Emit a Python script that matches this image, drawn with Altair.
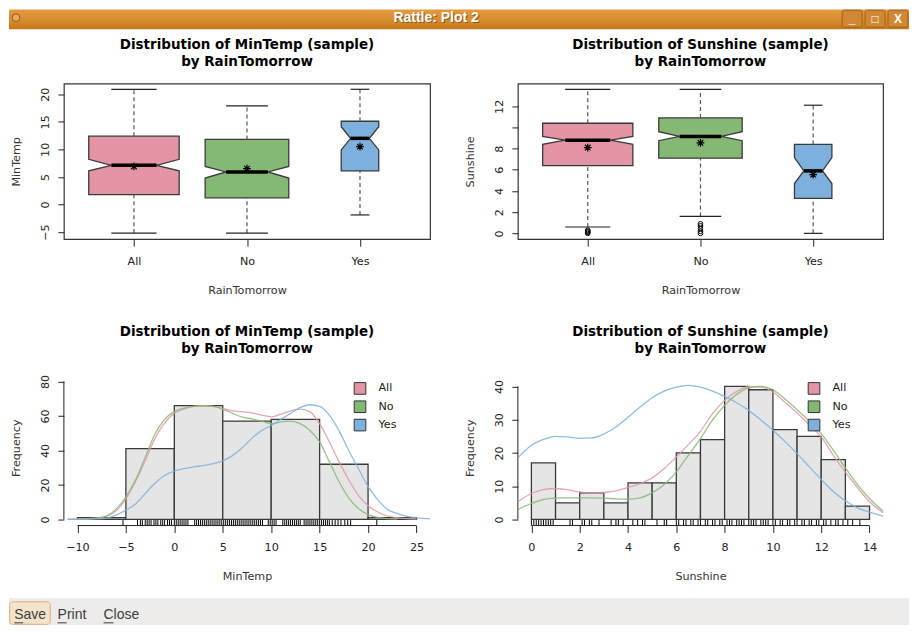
import json
import altair as alt
import pandas as pd

FONT = "DejaVu Sans"
UI_FONT = "Liberation Sans"
INK = "#222222"

# ---------------- data ----------------
groups = ["All", "No", "Yes"]
group_pos = [1, 2, 3]
box_half_width = [0.40, 0.37, 0.166]
group_colors = ["#E495A5", "#86B875", "#7DB0DD"]

# MinTemp boxplot statistics by group
mt_whisk_lo = [-5.2, -5.2, -1.9]
mt_q1 = [1.8, 1.2, 6.1]
mt_notch_lo = [6.1, 4.8, 9.9]
mt_median = [7.1, 5.9, 12.0]
mt_notch_hi = [8.2, 6.9, 14.1]
mt_q3 = [12.4, 11.8, 15.1]
mt_whisk_hi = [20.9, 17.9, 20.9]
mt_mean = [6.9, 6.5, 10.5]

# Sunshine boxplot statistics by group
ss_whisk_lo = [0.6, 1.6, 0.0]
ss_q1 = [6.4, 7.1, 3.3]
ss_notch_lo = [8.4, 8.75, 4.7]
ss_median = [8.8, 9.15, 5.9]
ss_notch_hi = [9.15, 9.6, 7.15]
ss_q3 = [10.4, 10.9, 8.4]
ss_whisk_hi = [13.6, 13.6, 12.1]
ss_mean = [8.1, 8.55, 5.55]
ss_outlier_group = ["All", "All", "All", "All", "No", "No", "No", "No", "No"]
ss_outlier_value = [0.0, 0.1, 0.2, 0.3, 0.0, 0.2, 0.45, 0.7, 0.9]

# Histograms
mt_bin_edges = [-10, -5, 0, 5, 10, 15, 20, 25]
mt_counts = [1, 41, 66, 57, 58, 32, 1]
ss_bin_edges = [0, 1, 2, 3, 4, 5, 6, 7, 8, 9, 10, 11, 12, 13, 14]
ss_counts = [17, 5, 8, 5, 11, 11, 20, 24, 40, 39, 27, 25, 18, 4]

# Rug values
mt_rug = [-5.3, -3.8, -3.5, -3.3, -3.0, -2.8, -2.6, -2.4, -2.1, -1.9, -1.7, -1.4, -1.2, -1.0,
          -0.7, -0.5, -0.3, 0.0, 0.2, 0.4, 0.6, 0.8, 1.0, 1.2, 1.4, 2.1, 2.3, 2.5, 2.7, 2.9,
          3.1, 3.3, 3.5, 3.7, 3.9, 4.1, 4.3, 4.5, 4.7, 4.9, 5.1, 5.3, 5.5, 5.7, 5.9, 6.1,
          6.3, 6.5, 6.7, 6.9, 7.1, 7.3, 7.5, 7.7, 7.9, 8.1, 8.3, 8.5, 8.7, 8.9, 9.1, 9.7,
          9.9, 10.1, 10.3, 10.5, 11.2, 11.4, 11.6, 11.8, 12.0, 12.2, 12.4, 12.6, 12.8, 13.0,
          13.4, 13.6, 13.8, 14.0, 14.2, 14.4, 14.6, 14.8, 15.0, 15.2, 15.4, 15.6, 15.8, 16.0,
          16.3, 16.6, 16.9, 17.2, 17.6, 17.9, 18.2, 20.9]
ss_rug = [0.0, 0.1, 0.2, 0.3, 0.4, 0.5, 0.6, 0.7, 0.8, 0.9, 1.6, 1.7, 2.1, 2.2, 2.4, 2.5, 2.8,
          3.3, 3.5, 3.6, 3.8, 4.2, 4.4, 4.6, 4.7, 5.2, 5.5, 5.6, 6.0, 6.1, 6.3, 6.4, 6.6, 6.7,
          6.9, 7.0, 7.2, 7.3, 7.5, 7.6, 7.8, 7.9, 8.1, 8.2, 8.3, 8.5, 8.6, 8.7, 8.8, 9.0, 9.1,
          9.2, 9.3, 9.5, 9.6, 9.7, 9.8, 10.0, 10.1, 10.3, 10.4, 10.6, 10.7, 10.9, 11.0, 11.2,
          11.3, 11.5, 11.6, 11.8, 11.9, 12.1, 12.2, 12.4, 12.6, 12.7, 12.9, 13.1, 13.3, 13.6]

# Density curves (scaled to the histogram), MinTemp
mt_all_x = [-11, -10, -9, -8, -7, -6, -5, -4, -3, -2, -1, 0, 1, 2, 3, 4, 5, 6, 7, 8, 9, 10,
            11, 12, 13, 14, 15, 16, 17, 18, 19, 20, 21, 22, 23, 24, 25]
mt_all_y = [0.1, 0.2, 0.4, 0.8, 1.8, 5, 12, 22, 34, 47, 56, 61.5, 64, 65.5, 66, 65.5, 64.3,
            63, 62.5, 61.8, 60.5, 59.5, 61, 63, 64, 62.5, 55.5, 45, 33.5, 23, 14, 8, 4.3, 2,
            1, 0.5, 0.2]
mt_no_x = [-11, -10, -9, -8, -7, -6, -5, -4, -3, -2, -1, 0, 1, 2, 3, 4, 5, 6, 7, 8, 9, 10,
           11, 12, 13, 14, 15, 16, 17, 18, 19, 20, 21, 22, 23]
mt_no_y = [0.1, 0.2, 0.4, 0.8, 2, 6, 13, 23, 36, 49.5, 58, 62.5, 64.5, 65.5, 66, 65.5, 64,
           61.5, 59.3, 58.3, 57, 55.5, 56.5, 57, 55.5, 51.6, 45, 33.5, 22, 12.5, 6.3, 2.8,
           1.2, 0.5, 0.2]
mt_yes_x = [-11, -10, -9, -8, -7, -6, -5, -4, -3, -2, -1, 0, 1, 2, 3, 4, 5, 6, 7, 8, 9, 10,
            11, 12, 13, 14, 15, 16, 17, 18, 19, 20, 21, 22, 23, 24, 25, 26, 26.4]
mt_yes_y = [0.02, 0.05, 0.1, 0.3, 0.8, 2.5, 5.4, 9, 15, 21, 25.5, 28, 29.5, 30.5, 31.2, 32.3,
            34, 37, 41.5, 47, 51.5, 54.5, 58, 61.5, 65, 66.5, 65.5, 60.5, 51.5, 40, 29.5, 19,
            11.5, 5.8, 3.5, 1.8, 0.9, 0.5, 0.4]

# Density curves, Sunshine
ss_x = [-0.56, 0, 0.5, 1, 1.5, 2, 2.5, 3, 3.5, 4, 4.5, 5, 5.5, 6, 6.5, 7, 7.5, 8, 8.5, 9,
        9.5, 10, 10.5, 11, 11.5, 12, 12.5, 13, 13.5, 14, 14.56]
ss_all_y = [5.3, 7.8, 9.0, 9.3, 8.9, 8.3, 8.0, 8.1, 8.6, 9.6, 10.8, 12.5, 15.3, 18.8, 22.5,
            26.5, 31.8, 35.8, 38.5, 39.9, 39.8, 38.3, 35.2, 32, 28.5, 24.8, 19.3, 14.2, 9.6,
            5.3, 2.0]
ss_no_y = [3.0, 4.8, 6.0, 6.4, 6.5, 6.5, 6.5, 6.4, 6.2, 6.1, 6.5, 8.0, 10.5, 14.3, 19.3,
           24.3, 29.9, 34.3, 37.6, 39.6, 40.0, 39.0, 36.2, 33, 29.6, 25.8, 20.8, 15.5, 10.5,
           6.3, 2.5]
ss_yes_y = [18.5, 22.3, 24.1, 25, 24.8, 24.4, 24.5, 25.7, 27.8, 30.7, 33.8, 36.6, 38.6, 39.8,
            40.3, 39.8, 38.6, 37, 35.1, 32.8, 29.9, 26.8, 23.4, 19.8, 15.9, 12, 8.4, 5.6, 3.5,
            2.2, 1.0]

mt_box_ticks = [-5, 0, 5, 10, 15, 20]
ss_box_ticks = [0, 2, 4, 6, 8, 10, 12]
ss_box_hidden = [10]
mt_hist_xticks = [-10, -5, 0, 5, 10, 15, 20, 25]
mt_hist_yticks = [0, 20, 40, 60, 80]
ss_hist_xticks = [0, 2, 4, 6, 8, 10, 12, 14]
ss_hist_yticks = [0, 10, 20, 30, 40]

# ---------------- layout ----------------
W_LEFT = 367
W_RIGHT = 366
H = 156
ASTERISK = "M-1,0L1,0M0,-1L0,1M-0.72,-0.72L0.72,0.72M-0.72,0.72L0.72,-0.72"
ONE = alt.InlineData(values=[{"o": 1}])
v = alt.value


def x_axis(values, title, width, label_list=None):
    kw = dict(values=values, title=title, grid=False, domain=False, ticks=True, tickSize=7,
              tickColor=INK, tickWidth=1, labelFont=FONT, labelFontSize=11.2, labelColor=INK,
              labelAngle=0, labelAlign="center", labelBaseline="middle", labelPadding=15,
              labelFlush=False, labelOverlap=False, titleFont=FONT, titleFontSize=11.2,
              titleFontWeight="normal", titleColor="#333333", titleX=width / 2, titleY=51.5,
              titleAlign="center", titleBaseline="middle", titleAngle=0)
    if label_list:
        kw["labelExpr"] = "%s[datum.value - 1]" % json.dumps(label_list)
    return alt.Axis(**kw)


def y_axis(values, title, hidden=None):
    kw = dict(values=values, title=title, grid=False, domain=False, ticks=True, tickSize=6,
              tickColor=INK, tickWidth=1, labelFont=FONT, labelFontSize=11.2, labelColor=INK,
              labelAngle=270, labelAlign="center", labelBaseline="bottom", labelPadding=7,
              labelFlush=False, labelOverlap=False, titleFont=FONT, titleFontSize=11.2,
              titleFontWeight="normal", titleColor="#333333", titleX=-47.3, titleY=H / 2,
              titleAlign="center", titleBaseline="middle", titleAngle=270)
    if hidden:
        kw["labelExpr"] = "indexof(%s, datum.value) >= 0 ? '' : datum.label" % json.dumps(hidden)
    return alt.Axis(**kw)


def title_layers(var, width):
    lines = ["Distribution of %s (sample)" % var, "by RainTomorrow"]
    out = []
    for line, dy in zip(lines, [-38.3, -21.1]):
        out.append(alt.Chart(ONE).mark_text(text=line, font=FONT, fontSize=13.5,
                                            fontWeight="bold", color="black", align="center",
                                            baseline="middle")
                   .encode(x=v(width / 2), y=v(dy)))
    return out


def box_panel(var, ydom, yticks, stats, width, outliers=None, hidden=None, extra=()):
    lo, q1, nlo, med, nhi, q3, hi, mean = stats
    poly_rows, stat_rows = [], []
    for i, g in enumerate(groups):
        c = group_pos[i]
        w = box_half_width[i]
        verts = [(q1[i], w), (nlo[i], w), (med[i], w / 2), (nhi[i], w), (q3[i], w)]
        for k, (val, hw) in enumerate(verts):
            poly_rows.append(dict(g=g, k=k, v=val, left=c - hw, right=c + hw))
        stat_rows.append(dict(g=g, c=c, lo=lo[i], q1=q1[i], med=med[i], q3=q3[i], hi=hi[i],
                              mean=mean[i], capL=c - w / 2, capR=c + w / 2))
    poly = pd.DataFrame(poly_rows)
    st = pd.DataFrame(stat_rows)

    xs = alt.Scale(domain=[0.38, 3.62], nice=False, zero=False)
    ys = alt.Scale(domain=ydom, nice=False, zero=False)
    xa = x_axis(group_pos, "RainTomorrow", width, groups)
    ya = y_axis(yticks, var, hidden)

    def X(f):
        return alt.X(f, type="quantitative", scale=xs, axis=xa)

    def Y(f):
        return alt.Y(f, type="quantitative", scale=ys, axis=ya)

    fill = alt.Fill("g:N", scale=alt.Scale(domain=groups, range=group_colors), legend=None)
    box = alt.Chart(poly).mark_area(orient="horizontal", stroke="#3A3A3A", strokeWidth=1.3,
                                    interpolate="linear", opacity=1, fillOpacity=1).encode(
        y=Y("v"), x=alt.X("left", type="quantitative", scale=xs, axis=xa, stack=None),
        x2="right", fill=fill)
    base = alt.Chart(st)
    wh = base.mark_rule(color="#555555", strokeWidth=1.2, strokeDash=[4, 3])
    up = wh.encode(x=X("c"), y=Y("q3"), y2="hi")
    dn = wh.encode(x=X("c"), y=Y("lo"), y2="q1")
    cap_hi = base.mark_rule(color=INK, strokeWidth=1.2).encode(x=X("capL"), x2="capR", y=Y("hi"))
    cap_lo = base.mark_rule(color=INK, strokeWidth=1.2).encode(x=X("capL"), x2="capR", y=Y("lo"))
    med_l = base.mark_rule(color="black", strokeWidth=3.5).encode(x=X("capL"), x2="capR", y=Y("med"))
    mean_p = base.mark_point(shape=ASTERISK, size=60, filled=False, color="black",
                             strokeWidth=1.2, opacity=1).encode(x=X("c"), y=Y("mean"))
    layers = [box, up, dn, cap_hi, cap_lo, med_l, mean_p]
    if outliers is not None:
        og, ov = outliers
        odf = pd.DataFrame({"g": og, "v": ov})
        odf["c"] = [group_pos[groups.index(g)] for g in og]
        layers.append(alt.Chart(odf).mark_point(shape="circle", size=22, filled=False,
                                                color="black", strokeWidth=1, opacity=1)
                      .encode(x=X("c"), y=Y("v")))
    layers += title_layers(var, width)
    layers += list(extra)
    return alt.layer(*layers).properties(
        width=width, height=H,
        view=alt.ViewBackground(stroke="#333333", strokeWidth=1.2))


def hist_panel(var, edges, counts, xdom, xticks, ydom, yticks, rug, dens, width):
    xs = alt.Scale(domain=xdom, nice=False, zero=False)
    ys = alt.Scale(domain=ydom, nice=False, zero=False)
    xa = x_axis(xticks, var, width)
    ya = y_axis(yticks, "Frequency")

    def X(f):
        return alt.X(f, type="quantitative", scale=xs, axis=xa)

    def Y(f):
        return alt.Y(f, type="quantitative", scale=ys, axis=ya)

    bars_df = pd.DataFrame({"start": edges[:-1], "end": edges[1:], "count": counts})
    bars = alt.Chart(bars_df).mark_rect(fill="#E5E5E5", stroke="#3A3A3A", strokeWidth=1.3).encode(
        x=X("start"), x2="end", y=Y("count"), y2=alt.datum(0))
    rug_l = alt.Chart(pd.DataFrame({"v": rug})).mark_rule(color="black", strokeWidth=1).encode(
        x=X("v"), y=v(H - 5.5), y2=v(H))
    xline = alt.Chart(pd.DataFrame({"lo": [xticks[0]], "hi": [xticks[-1]]})).mark_rule(
        color=INK, strokeWidth=1).encode(x=X("lo"), x2="hi", y=v(H))
    yline = alt.Chart(pd.DataFrame({"lo": [yticks[0]], "hi": [yticks[-1]]})).mark_rule(
        color=INK, strokeWidth=1).encode(y=Y("lo"), y2="hi", x=v(0))
    rows = []
    for g, xsv, ysv in dens:
        for a, b in zip(xsv, ysv):
            rows.append(dict(g=g, x=a, y=b))
    ddf = pd.DataFrame(rows)
    cscale = alt.Scale(domain=groups, range=group_colors)
    lines = alt.Chart(ddf).mark_line(interpolate="monotone", strokeWidth=1.3, opacity=0.85).encode(
        x=X("x"), y=Y("y"), stroke=alt.Stroke("g:N", scale=cscale, legend=None), detail="g:N")
    # legend key (All / No / Yes), spaced by a point scale on yOffset
    leg_df = pd.DataFrame({"series": groups})
    offs = alt.YOffset("series:N", scale=alt.Scale(type="point", domain=groups,
                                                   range=[0, 36.7], padding=0))
    leg_sq = alt.Chart(leg_df).mark_square(size=136, filled=True, stroke="#333333",
                                           strokeWidth=1, opacity=1).encode(
        x=v(296.8), y=v(18.6), yOffset=offs,
        fill=alt.Fill("series:N", scale=cscale, legend=None))
    leg_tx = alt.Chart(leg_df).mark_text(font=FONT, fontSize=11.2, color=INK, align="left",
                                         baseline="middle").encode(
        x=v(315.3), y=v(18.6), yOffset=offs, text="series:N")
    layers = [bars, rug_l, xline, yline, lines, leg_sq, leg_tx] + title_layers(var, width)
    return alt.layer(*layers).properties(
        width=width, height=H, view=alt.ViewBackground(stroke="transparent"))


# ---------------- window chrome (drawn relative to the first panel) ----------------
TITLEBAR = alt.Gradient(gradient="linear", x1=0, x2=0, y1=0, y2=1,
                        stops=[alt.GradientStop(offset=0, color="#E59B3D"),
                               alt.GradientStop(offset=0.6, color="#D6892C"),
                               alt.GradientStop(offset=1, color="#C47819")])
chrome = [
    alt.Chart(ONE).mark_rect(fill=TITLEBAR).encode(x=v(-55), x2=v(847), y=v(-74.3), y2=v(-54.3)),
    alt.Chart(ONE).mark_text(text="Rattle: Plot 2", font=UI_FONT, fontSize=14, fontWeight="bold",
                             color="#5A3A10", opacity=0.6, align="center", baseline="middle")
    .encode(x=v(374), y=v(-64.5)),
    alt.Chart(ONE).mark_text(text="Rattle: Plot 2", font=UI_FONT, fontSize=14, fontWeight="bold",
                             color="white", align="center", baseline="middle")
    .encode(x=v(373), y=v(-65.5)),
    alt.Chart(ONE).mark_point(shape="circle", size=60, filled=True, fill="#E7A85A",
                              stroke="#8A5A20", strokeWidth=1, opacity=1)
    .encode(x=v(-48), y=v(-66)),
    alt.Chart(ONE).mark_rect(fill="#EDECEB").encode(x=v(-55), x2=v(847), y=v(515.7), y2=v(542.7)),
    alt.Chart(ONE).mark_rect(fill="#F5E3CB", stroke="#D6B081", strokeWidth=1, cornerRadius=3)
    .encode(x=v(-54.3), x2=v(-13.7), y=v(519.4), y2=v(542)),
]
for bx0, glyph in [(780, "_"), (803, "□"), (826, "X")]:
    chrome.append(alt.Chart(ONE).mark_rect(fill="#D08835", stroke="#9E6019", strokeWidth=1,
                                           cornerRadius=2)
                  .encode(x=v(bx0), x2=v(bx0 + 20), y=v(-73.5), y2=v(-56.5)))
    chrome.append(alt.Chart(ONE).mark_text(text=glyph, font=UI_FONT, fontSize=12,
                                           fontWeight="bold", color="white", align="center",
                                           baseline="middle")
                  .encode(x=v(bx0 + 10), y=v(-65)))
for tx, label, uw in [(-49.7, "Save", 9), (-6.3, "Print", 9), (39.7, "Close", 10)]:
    chrome.append(alt.Chart(ONE).mark_text(text=label, font=UI_FONT, fontSize=14,
                                           color="#3C3C3C", align="left", baseline="middle")
                  .encode(x=v(tx), y=v(533)))
    chrome.append(alt.Chart(ONE).mark_rule(color="#3C3C3C", strokeWidth=1)
                  .encode(x=v(tx), x2=v(tx + uw), y=v(540.5)))

# ---------------- panels ----------------
panel_a = box_panel("MinTemp", [-6.3, 21.95], mt_box_ticks,
                    (mt_whisk_lo, mt_q1, mt_notch_lo, mt_median, mt_notch_hi, mt_q3,
                     mt_whisk_hi, mt_mean), W_LEFT, extra=chrome)
panel_b = box_panel("Sunshine", [-0.55, 14.15], ss_box_ticks,
                    (ss_whisk_lo, ss_q1, ss_notch_lo, ss_median, ss_notch_hi, ss_q3,
                     ss_whisk_hi, ss_mean), W_RIGHT,
                    outliers=(ss_outlier_group, ss_outlier_value), hidden=ss_box_hidden)
panel_c = hist_panel("MinTemp", mt_bin_edges, mt_counts, [-11.4, 26.4], mt_hist_xticks,
                     [-3.53, 86.7], mt_hist_yticks, mt_rug,
                     [("All", mt_all_x, mt_all_y), ("No", mt_no_x, mt_no_y),
                      ("Yes", mt_yes_x, mt_yes_y)], W_LEFT)
panel_d = hist_panel("Sunshine", ss_bin_edges, ss_counts, [-0.56, 14.56], ss_hist_xticks,
                     [-1.83, 44.97], ss_hist_yticks, ss_rug,
                     [("All", ss_x, ss_all_y), ("No", ss_x, ss_no_y),
                      ("Yes", ss_x, ss_yes_y)], W_RIGHT)

chart = alt.concat(panel_a, panel_b, panel_c, panel_d, columns=2,
                   spacing={"row": 131, "column": 88}, bounds="flush").properties(
    padding=0).configure(font=FONT, background="white").configure_view(stroke="transparent")

chart.save("out.html", embed_options={"renderer": "svg", "actions": False})
